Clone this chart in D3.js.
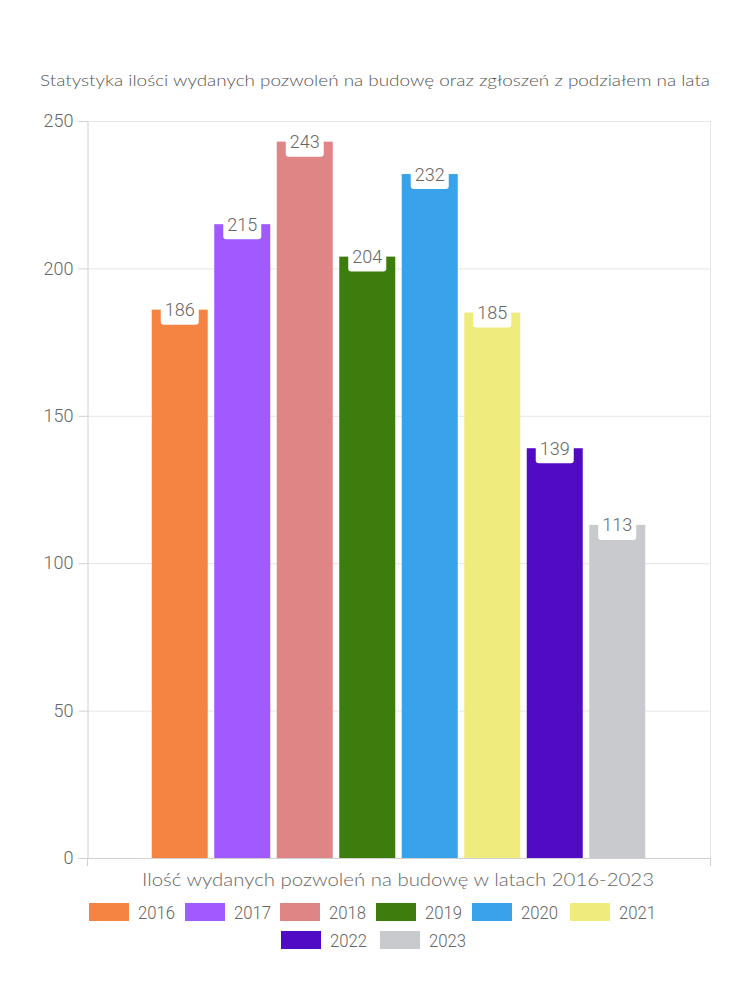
<!DOCTYPE html>
<html><head><meta charset="utf-8">
<script src="https://cdn.jsdelivr.net/npm/d3@7"></script>
<style>body{margin:0;background:#fff}svg{display:block}</style>
</head><body>
<script>
const years = ["2016","2017","2018","2019","2020","2021","2022","2023"];
const values = [186,215,243,204,232,185,139,113];
const colors = ["#F58442","#A05AFF","#E08585","#3D7D0D","#38A3EA","#F0EB7D","#520BC4","#C9CACE"];
const yTicks = [0,50,100,150,200,250];
const title = "Statystyka ilości wydanych pozwoleń na budowę oraz zgłoszeń z podziałem na lata";
const xTitle = "Ilość wydanych pozwoleń na budowę w latach 2016-2023";

(function(){
const W=750,H=1000;
const pL=87,pR=710,pT=121,pB=858;
const font="Lato, 'Noto Sans', sans-serif";
const num="Roboto, sans-serif";
const svg=d3.select("body").append("svg").attr("width",W).attr("height",H);

const y=d3.scaleLinear().domain([0,250]).range([pB,pT]);
const x=d3.scaleBand().domain(years).range([pL,pR]).paddingInner(0.104).paddingOuter(1.036);

svg.append("text").attr("x",40).attr("y",86).attr("fill","#555").attr("font-family",font).attr("font-weight",300)
  .attr("font-size",16).attr("textLength",670).attr("lengthAdjust","spacingAndGlyphs").text(title);

svg.append("g").selectAll("line").data(yTicks.filter(d=>d>0)).join("line")
  .attr("x1",pL).attr("x2",pR).attr("y1",d=>y(d)+0.5).attr("y2",d=>y(d)+0.5)
  .attr("stroke","#e6e6e6");
svg.append("line").attr("x1",pR+0.5).attr("x2",pR+0.5).attr("y1",pT).attr("y2",pB).attr("stroke","#e6e6e6");

const ya=svg.append("g").attr("transform",`translate(${pL+0.5},0)`)
  .call(d3.axisLeft(y).tickValues(yTicks).tickSize(9).tickPadding(5));
ya.select(".domain").attr("stroke","#d0d0d0");
ya.selectAll(".tick line").attr("stroke","#d0d0d0");
ya.selectAll("text").attr("fill","#666").attr("font-size",18).attr("font-weight",300).attr("font-family",num);

svg.append("line").attr("x1",pL).attr("x2",pR).attr("y1",pB+0.5).attr("y2",pB+0.5).attr("stroke","#d0d0d0");
svg.append("g").selectAll("line").data([pL,pR]).join("line")
  .attr("x1",d=>d+0.5).attr("x2",d=>d+0.5).attr("y1",pB).attr("y2",pB+8).attr("stroke","#d0d0d0");

svg.append("g").selectAll("rect").data(values).join("rect")
  .attr("x",(d,i)=>x(years[i])).attr("width",x.bandwidth())
  .attr("y",d=>y(d)).attr("height",d=>pB-y(d)).attr("fill",(d,i)=>colors[i]);

const lg=svg.append("g").selectAll("g").data(values).join("g")
  .attr("transform",(d,i)=>`translate(${x(years[i])+x.bandwidth()/2},${y(d)})`);
lg.append("rect").attr("x",-19).attr("y",-14).attr("width",38).attr("height",29).attr("rx",3).attr("fill","#fff");
lg.append("text").attr("text-anchor","middle").attr("y",6.5).attr("fill","#666").attr("font-weight",300)
  .attr("font-size",18).attr("font-family",num).text(d=>d);

svg.append("text").attr("x",398).attr("y",886).attr("text-anchor","middle").attr("fill","#666").attr("font-weight",300)
  .attr("font-family",font).attr("font-size",18).attr("textLength",512).attr("lengthAdjust","spacingAndGlyphs").text(xTitle);

const legPos=[[89,912],[185,912],[280,912],[376,912],[472,912],[570,912],[281,940],[380,940]];
const leg=svg.append("g").selectAll("g").data(years).join("g")
  .attr("transform",(d,i)=>`translate(${legPos[i][0]},${legPos[i][1]})`);
leg.append("rect").attr("x",0).attr("y",-9).attr("width",40).attr("height",18).attr("fill",(d,i)=>colors[i]);
leg.append("text").attr("x",49).attr("y",7).attr("fill","#666").attr("font-size",19).attr("font-weight",300)
  .attr("font-family",num).attr("textLength",37).attr("lengthAdjust","spacingAndGlyphs").text(d=>d);
})();
</script>
</body></html>
